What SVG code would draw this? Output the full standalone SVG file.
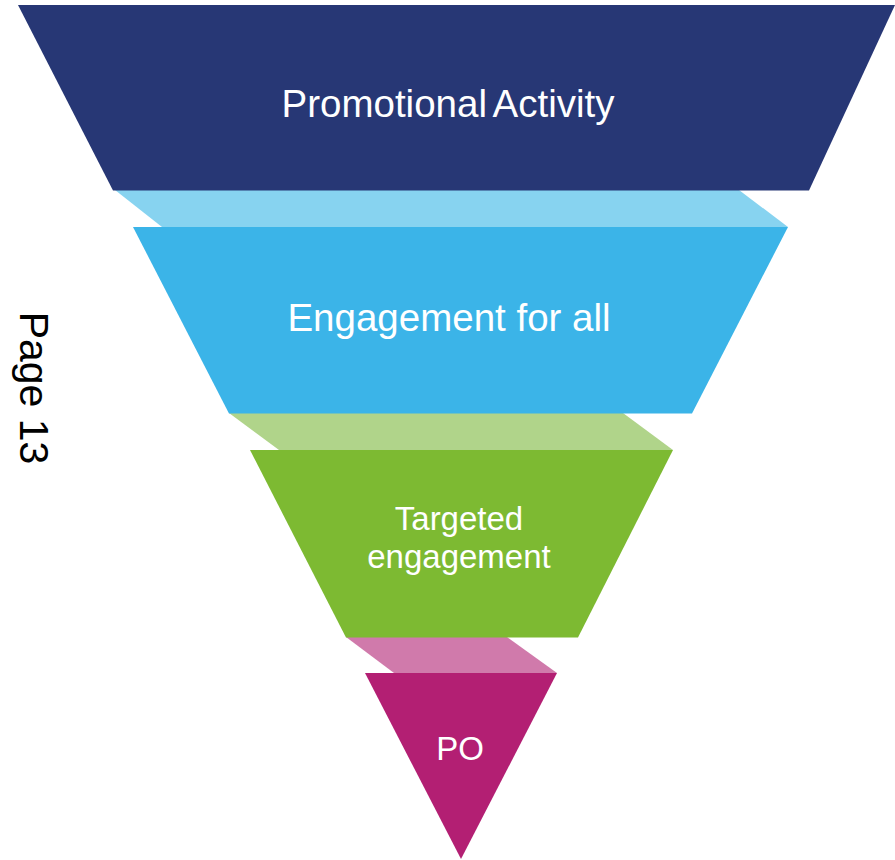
<svg xmlns="http://www.w3.org/2000/svg" width="895" height="860" viewBox="0 0 895 860">
<style>
text { font-family: "Liberation Sans", Arial, sans-serif; fill: #ffffff; text-anchor: middle; }
.big { font-size: 38.5px; }
.mid { font-size: 33px; }
.side { font-size: 41px; fill: #000000; }
</style>
<rect width="895" height="860" fill="#ffffff"/>
<g id="bands">
<polygon points="115,190 739,190 788,227 162,227" fill="#87d3f0"/>
<polygon points="229,413 623,413 673,450 279,450" fill="#b0d48a"/>
<polygon points="346,637 507,637 557,673 394,673" fill="#d07aab"/>
</g>
<g id="promotional">
<polygon points="18,5 895,5 809,190.5 113,190.5" fill="#273775"/>
<text class="big" x="448" y="117" word-spacing="-3">Promotional Activity</text>
</g>
<g id="engagement-all">
<polygon points="133,227 788,227 692,413.5 229,413.5" fill="#3bb4e8"/>
<text class="big" x="449" y="331">Engagement for all</text>
</g>
<g id="targeted">
<polygon points="250,450 673,450 578,637.5 346,637.5" fill="#7dba32"/>
<text class="mid" x="459" y="530">Targeted</text>
<text class="mid" x="459" y="568">engagement</text>
</g>
<g id="po">
<polygon points="365,673 557,673 461,859" fill="#b31f73"/>
<text class="mid" x="460" y="760">PO</text>
</g>
<g id="connectors"></g>
<text class="side" transform="translate(20,388) rotate(90)">Page 13</text>
</svg>
